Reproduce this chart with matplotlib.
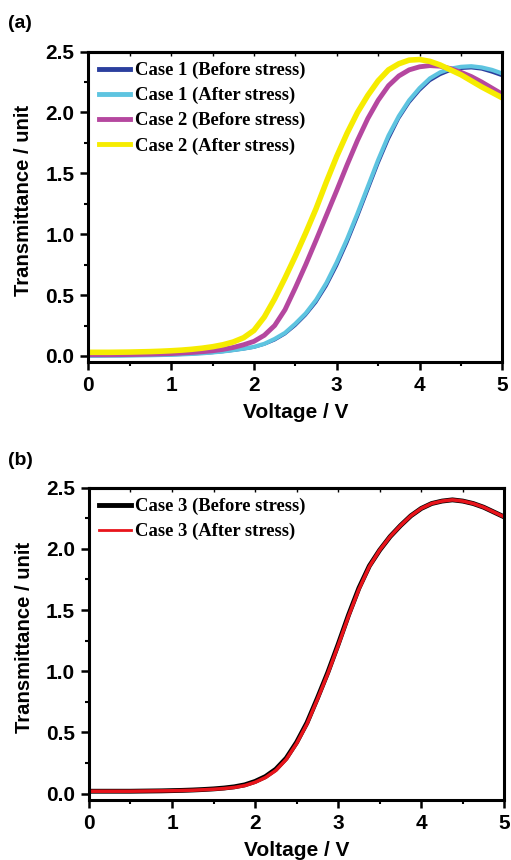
import numpy as np
import matplotlib
matplotlib.use("Agg")
import matplotlib.pyplot as plt

plt.rcParams['font.family'] = ['Liberation Sans', 'DejaVu Sans']
plt.rcParams['font.weight'] = 'bold'

# voltage grid of the readings (0.125 V steps, 0 .. 5 V)
voltage = np.arange(0, 5.0001, 0.125)

# panel (a), values
case1_before = [0.000, 0.000, 0.001, 0.001, 0.002, 0.003, 0.004, 0.006, 0.008, 0.011,
                0.015, 0.020, 0.026, 0.034, 0.044, 0.056,
                0.070, 0.095, 0.13, 0.18, 0.25, 0.335, 0.44, 0.575, 0.74, 0.93,
                1.14, 1.36, 1.58, 1.78, 1.95, 2.08, 2.18, 2.26, 2.31, 2.345,
                2.36, 2.365, 2.355, 2.33, 2.30]
case1_after = [0.002, 0.002, 0.003, 0.003, 0.004, 0.005, 0.006, 0.008, 0.010, 0.013,
               0.017, 0.022, 0.029, 0.037, 0.048, 0.060,
               0.075, 0.10, 0.14, 0.19, 0.265, 0.35, 0.46, 0.60, 0.77, 0.96,
               1.17, 1.39, 1.61, 1.81, 1.97, 2.10, 2.20, 2.28, 2.33, 2.36,
               2.375, 2.38, 2.37, 2.35, 2.32]
case2_before = [0.010, 0.010, 0.010, 0.011, 0.012, 0.013, 0.015, 0.017, 0.020, 0.024,
                0.029, 0.035, 0.043, 0.054, 0.070, 0.092,
                0.12, 0.17, 0.25, 0.38, 0.56, 0.75, 0.95, 1.155, 1.36, 1.57,
                1.77, 1.95, 2.10, 2.22, 2.30, 2.35, 2.375, 2.385, 2.38, 2.36,
                2.33, 2.295, 2.25, 2.20, 2.15]
case2_after = [0.030, 0.030, 0.030, 0.031, 0.032, 0.034, 0.036, 0.039, 0.043, 0.048,
               0.055, 0.064, 0.076, 0.092, 0.115, 0.150,
               0.21, 0.32, 0.47, 0.64, 0.82, 1.01, 1.21, 1.43, 1.64, 1.83,
               2.00, 2.14, 2.26, 2.35, 2.40, 2.43, 2.435, 2.42, 2.39, 2.35,
               2.31, 2.26, 2.21, 2.165, 2.12]

# panel (b)
case3_before = [0.020, 0.020, 0.020, 0.020, 0.020, 0.021, 0.022, 0.023, 0.025, 0.027,
                0.030, 0.034, 0.039, 0.046, 0.056, 0.072,
                0.10, 0.14, 0.20, 0.29, 0.42, 0.58, 0.78, 0.99, 1.22, 1.46,
                1.68, 1.86, 1.99, 2.10, 2.19, 2.27, 2.33, 2.37, 2.39, 2.40,
                2.39, 2.37, 2.34, 2.30, 2.26]
case3_after = [0.020, 0.020, 0.020, 0.020, 0.020, 0.021, 0.022, 0.023, 0.024, 0.026,
               0.028, 0.032, 0.036, 0.042, 0.051, 0.066,
               0.093, 0.132, 0.19, 0.28, 0.41, 0.57, 0.77, 0.98, 1.21, 1.45,
               1.67, 1.855, 1.99, 2.10, 2.19, 2.27, 2.33, 2.37, 2.39, 2.40,
               2.39, 2.37, 2.34, 2.30, 2.26]

fig = plt.figure(figsize=(5.11, 8.60), dpi=100)
ax1 = fig.add_axes([0.173, 0.579, 0.810, 0.361])
ax2 = fig.add_axes([0.174, 0.070, 0.813, 0.363])

ax1.plot(voltage, case1_before, color='#2b3f9e', lw=2.0, label='Case 1 (Before stress)')
ax1.plot(voltage, case1_after, color='#5ec4e0', lw=3.0, label='Case 1 (After stress)')
ax1.plot(voltage, case2_before, color='#b5479f', lw=3.5, label='Case 2 (Before stress)')
ax1.plot(voltage, case2_after, color='#f6ec00', lw=4.0, label='Case 2 (After stress)')

ax2.plot(voltage, case3_before, color='black', lw=3.5, label='Case 3 (Before stress)')
ax2.plot(voltage, case3_after, color='#e8141b', lw=2.5, label='Case 3 (After stress)')

for ax in [ax1, ax2]:
    ax.set_xlim(0, 5)
    ax.set_ylim(-0.05, 2.5)
    ax.set_xticks(np.arange(0, 5.1, 1))
    ax.set_xticks(np.arange(0.5, 5, 1), minor=True)
    ax.set_yticks(np.arange(0, 2.6, 0.5))
    ax.set_yticks(np.arange(0.25, 2.5, 0.5), minor=True)
    ax.set_yticklabels(['0.0', '0.5', '1.0', '1.5', '2.0', '2.5'])
    ax.tick_params(which='major', direction='out', length=6, width=1.8, labelsize=15, pad=4)
    ax.tick_params(which='minor', direction='out', length=3, width=1.5)
    for s in ax.spines.values():
        s.set_linewidth(2.2)
    top = ax.secondary_xaxis('top')
    top.set_xticks(np.arange(0, 5.1, 0.5))
    top.set_xticklabels([])
    top.tick_params(direction='in', length=3, width=1)
    top.spines['top'].set_linewidth(2.2)
    ax.set_xlabel('Voltage / V', fontsize=15, fontweight='bold', labelpad=6)
    ax.set_ylabel('Transmittance / unit', fontsize=14.6, fontweight='bold')
    ax.yaxis.set_label_coords(-0.133, 0.52)
    leg = ax.legend(loc='upper left', frameon=False, handlelength=1.7,
                    prop={'family': 'Liberation Serif', 'weight': 'bold', 'size': 13.4},
                    labelspacing=0.42, borderpad=0.1, borderaxespad=0.45,
                    handletextpad=0.25)
    for h in leg.get_lines():
        h.set_linewidth(2.0 if h.get_color() == '#e8141b' else 3.5)

fig.text(0.016, 0.968, '(a)', fontsize=14, fontweight='bold')
fig.text(0.016, 0.459, '(b)', fontsize=14, fontweight='bold')

fig.savefig('out.png', dpi=100)
